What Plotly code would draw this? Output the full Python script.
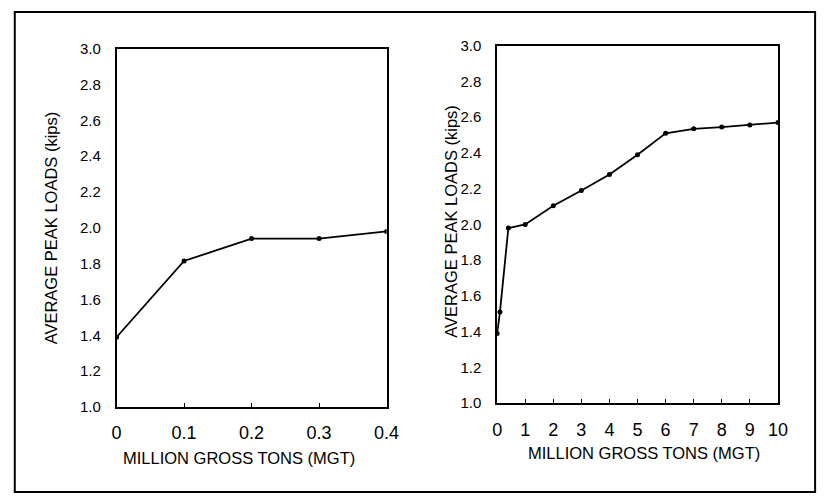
import plotly.graph_objects as go

# Left chart data (0 - 0.4 MGT)
left_x = [0, 0.1, 0.2, 0.3, 0.4]
left_y = [1.39, 1.815, 1.94, 1.94, 1.98]

# Right chart data (0 - 10 MGT)
right_x = [0, 0.1, 0.4, 1, 2, 3, 4, 5, 6, 7, 8, 9, 10]
right_y = [1.39, 1.51, 1.98, 2.0, 2.105, 2.19, 2.28, 2.39, 2.51, 2.535, 2.545, 2.557, 2.57]

y_ticks = [1.0, 1.2, 1.4, 1.6, 1.8, 2.0, 2.2, 2.4, 2.6, 2.8, 3.0]
y_ticktext = ["%.1f" % v for v in y_ticks]
left_xticks = [0, 0.1, 0.2, 0.3, 0.4]
left_xticktext = ["0", "0.1", "0.2", "0.3", "0.4"]
right_xticks = list(range(0, 11))
right_xticktext = [str(v) for v in right_xticks]

x_title = "MILLION GROSS TONS (MGT)"
y_title = "AVERAGE PEAK LOADS (kips)"

FONT = "Liberation Sans, Arial, sans-serif"
W, H = 833, 503

fig = go.Figure()
fig.add_trace(go.Scatter(x=left_x, y=left_y, mode="lines+markers",
                         line=dict(color="black", width=1.8),
                         marker=dict(color="black", size=5, symbol="circle"),
                         xaxis="x", yaxis="y", showlegend=False))
fig.add_trace(go.Scatter(x=right_x, y=right_y, mode="lines+markers",
                         line=dict(color="black", width=1.8),
                         marker=dict(color="black", size=5, symbol="circle"),
                         xaxis="x2", yaxis="y2", showlegend=False))

def px_x(a, b):
    return [a / W, b / W]

def px_y(top, bottom):
    return [1 - bottom / H, 1 - top / H]

common_x = dict(showline=True, linecolor="black", linewidth=1.5, mirror=True,
                ticks="inside", ticklen=4, tickwidth=1, tickcolor="black", showgrid=False,
                zeroline=False, tickfont=dict(family=FONT, size=18, color="black"),
                ticklabelstandoff=9)
common_y = dict(showline=True, linecolor="black", linewidth=1.5, mirror=True,
                ticks="", showgrid=False, zeroline=False,
                range=[1.0, 3.0], tickvals=y_ticks, ticktext=y_ticktext,
                tickfont=dict(family=FONT, size=15, color="black"),
                ticklabelstandoff=11)

title_font = dict(family=FONT, size=16.5, color="black")

fig.update_layout(
    width=W, height=H,
    margin=dict(l=0, r=0, t=0, b=0),
    paper_bgcolor="white", plot_bgcolor="white",
    font=dict(family=FONT, color="black"),
    xaxis=dict(domain=px_x(114, 390), range=[0, 0.4], tickvals=left_xticks,
               ticktext=left_xticktext, anchor="y", **common_x),
    yaxis=dict(domain=px_y(41, 412), anchor="x", **common_y),
    xaxis2=dict(domain=px_x(503, 790), range=[0, 10], tickvals=right_xticks,
                ticktext=right_xticktext, anchor="y2", **common_x),
    yaxis2=dict(domain=px_y(38, 408), anchor="x2", **common_y),
    shapes=[dict(type="rect", xref="paper", yref="paper",
                 x0=10 / W, x1=828 / W, y0=1 - 500 / H, y1=1 - 3 / H,
                 line=dict(color="black", width=2))],
    annotations=[
        dict(text=x_title, xref="paper", yref="paper", x=239 / W, y=1 - 465 / H,
             showarrow=False, xanchor="center", yanchor="middle", font=title_font),
        dict(text=x_title, xref="paper", yref="paper", x=653 / W, y=1 - 460 / H,
             showarrow=False, xanchor="center", yanchor="middle", font=title_font),
        dict(text=y_title, xref="paper", yref="paper", x=47 / W, y=1 - 226 / H,
             showarrow=False, xanchor="center", yanchor="middle", textangle=-90, font=title_font),
        dict(text=y_title, xref="paper", yref="paper", x=455 / W, y=1 - 220 / H,
             showarrow=False, xanchor="center", yanchor="middle", textangle=-90, font=title_font),
    ],
)

fig.write_html("out.html")
